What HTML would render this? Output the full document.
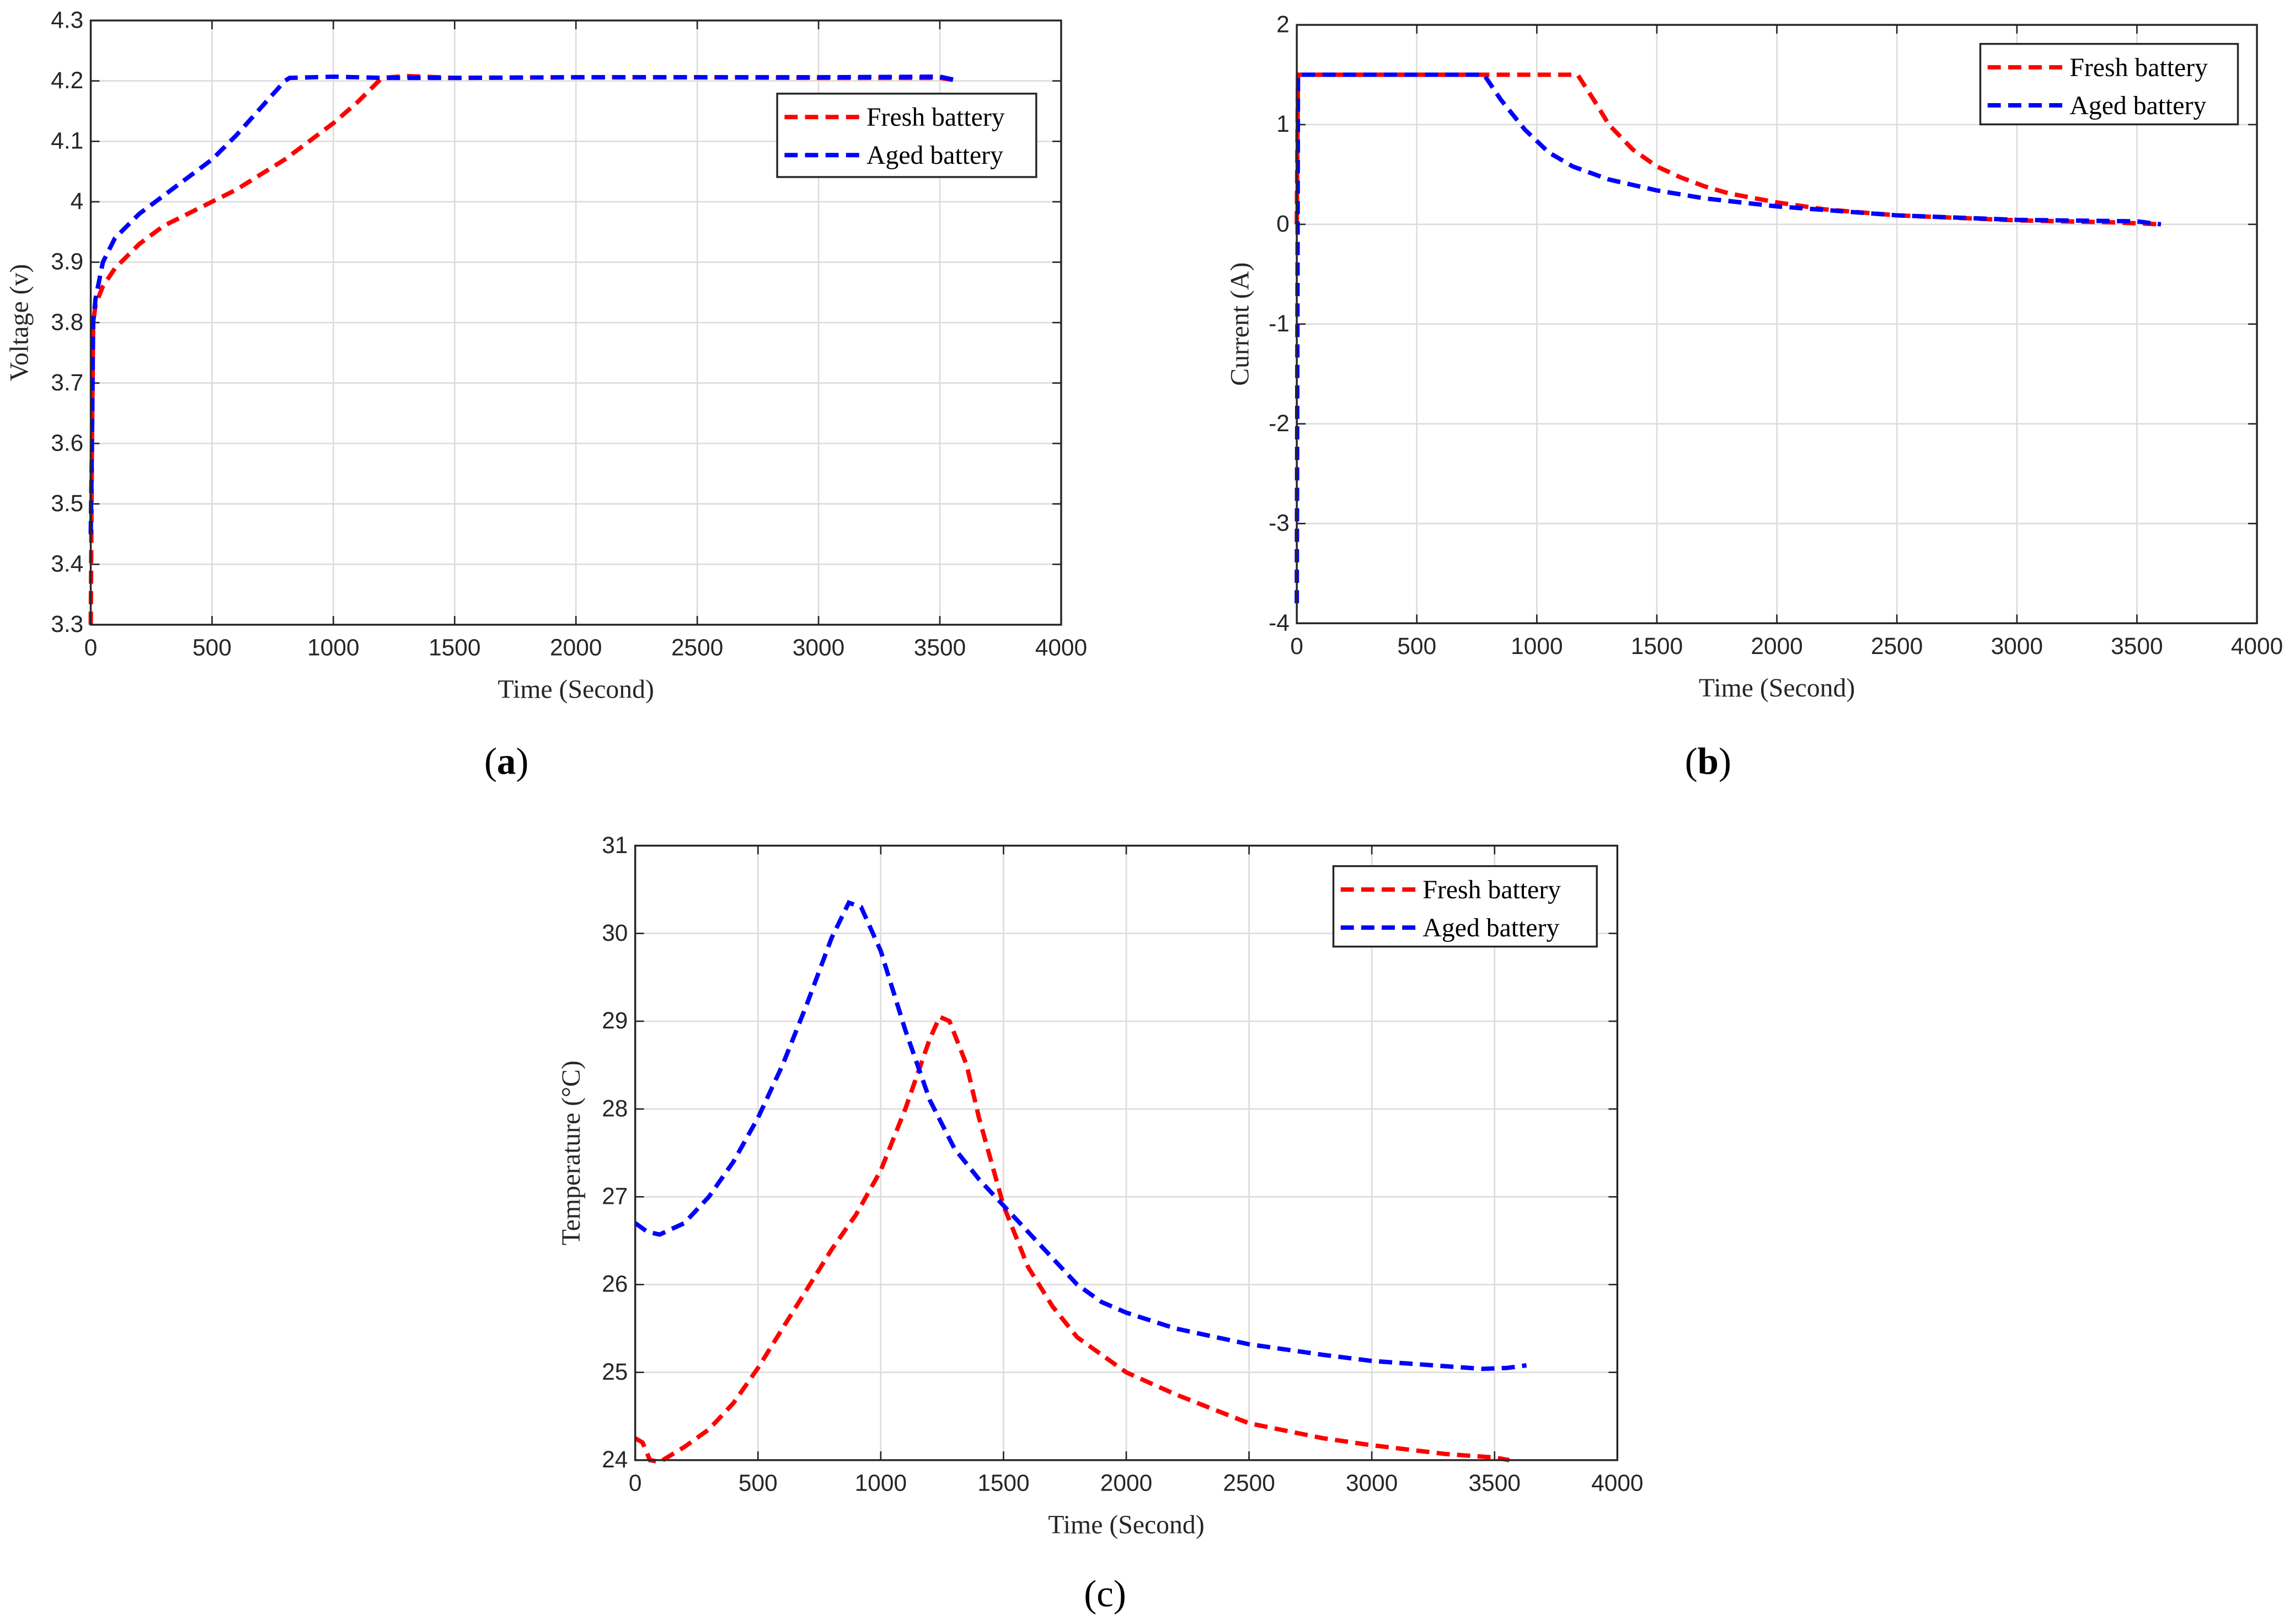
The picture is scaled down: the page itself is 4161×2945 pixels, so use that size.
<!DOCTYPE html>
<html><head><meta charset="utf-8"><style>
html,body{margin:0;padding:0;background:#fff}
svg{display:block}
text{font-family:"Liberation Sans",sans-serif}
.t{font-family:"Liberation Serif",serif}
</style></head><body>
<svg id="s" width="4161" height="2945" viewBox="0 0 1568 1110" preserveAspectRatio="none" xmlns="http://www.w3.org/2000/svg"></svg>
<script>
// Panel (a) voltage
const aFreshT=[0,5,10,20,50,100,200,300,400,500,600,700,800,900,1000,1100,1200,1300,1500,2000,2500,3000,3500,3580];
const aFreshV=[3.3,3.6,3.8,3.83,3.86,3.89,3.93,3.96,3.98,4.0,4.02,4.045,4.07,4.1,4.13,4.165,4.205,4.208,4.205,4.206,4.206,4.205,4.205,4.2];
const aAgedT=[0,5,10,20,50,100,150,200,300,400,500,600,700,800,820,1000,1200,1500,2000,2500,3000,3500,3580];
const aAgedV=[3.45,3.6,3.8,3.84,3.9,3.94,3.96,3.98,4.01,4.04,4.07,4.11,4.155,4.2,4.205,4.207,4.205,4.205,4.206,4.206,4.206,4.207,4.2];
// Panel (b) current
const bFreshT=[0,5,1170,1250,1300,1400,1500,1600,1700,1800,2000,2200,2500,3000,3400,3600];
const bFreshI=[0,1.5,1.5,1.2,1.0,0.75,0.58,0.47,0.38,0.31,0.22,0.15,0.09,0.04,0.02,0];
const bAgedT=[0,5,780,850,950,1050,1150,1300,1500,1700,2000,2500,3000,3500,3600];
const bAgedI=[-3.8,1.5,1.5,1.25,0.95,0.72,0.58,0.45,0.34,0.26,0.18,0.09,0.045,0.03,0];
// Panel (c) temperature
const cFreshT=[0,30,60,100,200,300,400,500,600,700,800,900,1000,1100,1200,1240,1280,1350,1400,1500,1600,1700,1800,1900,2000,2200,2500,2800,3000,3300,3500,3560];
const cFreshC=[24.25,24.2,24.0,23.98,24.15,24.35,24.65,25.05,25.5,25.95,26.4,26.8,27.3,28.0,28.8,29.05,29.0,28.5,27.9,26.9,26.2,25.75,25.4,25.2,25.0,24.75,24.42,24.25,24.17,24.07,24.03,24.0];
const cAgedT=[0,50,100,200,300,400,500,600,700,800,870,920,1000,1100,1200,1300,1400,1500,1600,1700,1800,1900,2000,2200,2500,2800,3000,3300,3450,3550,3630];
const cAgedC=[26.7,26.6,26.57,26.7,27.0,27.4,27.9,28.5,29.2,29.95,30.35,30.3,29.8,28.9,28.1,27.55,27.2,26.9,26.6,26.3,26.0,25.8,25.68,25.5,25.32,25.2,25.13,25.07,25.04,25.05,25.08];
const xTicks=[0,500,1000,1500,2000,2500,3000,3500,4000];
const aYTicks=[3.3,3.4,3.5,3.6,3.7,3.8,3.9,4,4.1,4.2,4.3];
const bYTicks=[-4,-3,-2,-1,0,1,2];
const cYTicks=[24,25,26,27,28,29,30,31];

const NS="http://www.w3.org/2000/svg";
const svg=document.getElementById('s');
function mk(tag,attrs,parent){const e=document.createElementNS(NS,tag);for(const k in attrs)e.setAttribute(k,attrs[k]);(parent||svg).appendChild(e);return e;}

function panel(id,L,T,R,B,ymin,ymax,yt,ylab,label,leg,series){
  const g=mk('g',{});
  
  
  const X=v=>L+(v-0)/4000*(R-L), Y=v=>B-(v-ymin)/(ymax-ymin)*(B-T);
  xTicks.forEach(t=>{
    const l=mk('line',{x1:X(t),x2:X(t),y1:T,y2:B,stroke:'#dcdcdc','stroke-width':1},g);
    
    
    const tx=mk('text',{x:X(t),y:B+21,'font-size':16,'text-anchor':'middle',fill:'#262626'},g);
    tx.textContent=t;
    
    
    mk('line',{x1:X(t),x2:X(t),y1:B,y2:B-6,stroke:'#262626'},g);
    mk('line',{x1:X(t),x2:X(t),y1:T,y2:T+6,stroke:'#262626'},g);
  });
  yt.forEach(t=>{
    const l=mk('line',{x1:L,x2:R,y1:Y(t),y2:Y(t),stroke:'#dcdcdc','stroke-width':1},g);
    
    
    const tx=mk('text',{x:L-5,y:Y(t)+5,'font-size':16,'text-anchor':'end',fill:'#262626'},g);
    tx.textContent=t;
    
    
    mk('line',{x1:L,x2:L+6,y1:Y(t),y2:Y(t),stroke:'#262626'},g);
    mk('line',{x1:R,x2:R-6,y1:Y(t),y2:Y(t),stroke:'#262626'},g);
  });
  series.forEach(s=>{
    const d=s.t.map((t,i)=>(i?'L':'M')+X(t).toFixed(2)+','+Y(s.v[i]).toFixed(2)).join(' ');
    const p=mk('path',{d:d,fill:'none',stroke:s.c,'stroke-width':3,'stroke-dasharray':'9,5'},g);
    
    
  });
  const fr=mk('rect',{x:L,y:T,width:R-L,height:B-T,fill:'none',stroke:'#262626','stroke-width':1.3},g);
  
  
  const xl=mk('text',{x:(L+R)/2,y:B+50,'font-size':18,'text-anchor':'middle',class:'t',fill:'#262626'},g);
  xl.textContent='Time (Second)';
  
  
  const yx=ylab.x, yy=(T+B)/2;
  const yl=mk('text',{x:yx,y:yy,'font-size':18,'text-anchor':'middle',class:'t',fill:'#262626',transform:`rotate(-90 ${yx} ${yy})`},g);
  yl.textContent=ylab.s;
  
  
  const pl=mk('text',{x:label.x,y:label.y,'font-size':26,'text-anchor':'middle',class:'t',fill:'#000'},g);
  pl.innerHTML=label.s;
  
  
  const lg=mk('g',{},g);
  
  
  mk('rect',{x:leg.x,y:leg.y,width:leg.w,height:leg.h,fill:'#fff',stroke:'#262626','stroke-width':1.3},lg);
  [['Fresh battery','red'],['Aged battery','blue']].forEach((e,i)=>{
    const yy2=leg.y+16+i*26;
    const ln=mk('line',{x1:leg.x+5,x2:leg.x+58,y1:yy2,y2:yy2,stroke:e[1],'stroke-width':3,'stroke-dasharray':'9,5'},lg);
    
    
    const tx=mk('text',{x:leg.x+61,y:yy2+6,'font-size':18,class:'t',fill:'#000'},lg);
    tx.textContent=e[0];
    
    
  });
}
panel('voltage',62,14,725,427,3.3,4.3,aYTicks,{x:19,s:'Voltage (v)'},{x:346,y:529,s:'(<tspan font-weight="bold">a</tspan>)'},{x:531,y:64,w:177,h:57},
  [{t:aFreshT,v:aFreshV,c:'red',n:'fresh-voltage-line'},{t:aAgedT,v:aAgedV,c:'blue',n:'aged-voltage-line'}]);
panel('current',886,17,1542,426,-4,2,bYTicks,{x:853,s:'Current (A)'},{x:1167,y:529,s:'(<tspan font-weight="bold">b</tspan>)'},{x:1353,y:30,w:176,h:55},
  [{t:bFreshT,v:bFreshI,c:'red',n:'fresh-current-line'},{t:bAgedT,v:bAgedI,c:'blue',n:'aged-current-line'}]);
panel('temperature',434,578,1105,998,24,31,cYTicks,{x:396,s:'Temperature (°C)'},{x:755,y:1098,s:'(c)'},{x:911,y:592,w:180,h:55},
  [{t:cFreshT,v:cFreshC,c:'red',n:'fresh-temperature-line'},{t:cAgedT,v:cAgedC,c:'blue',n:'aged-temperature-line'}]);
</script>
</body></html>
